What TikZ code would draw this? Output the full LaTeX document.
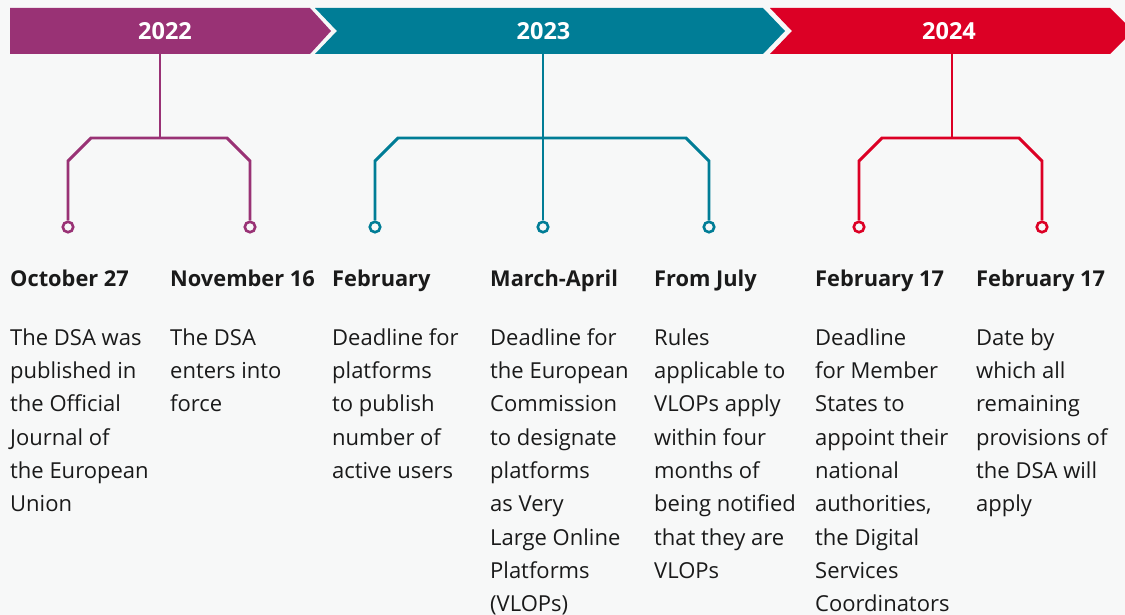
\documentclass[tikz,border=0pt]{standalone}
\usepackage{fontspec}
\setmainfont{Open Sans}
\definecolor{bgc}{HTML}{F7F8F8}
\definecolor{cpurple}{HTML}{993275}
\definecolor{cteal}{HTML}{007D96}
\definecolor{cred}{HTML}{DC0025}
\definecolor{ink}{HTML}{1A1A1A}
\begin{document}
\begin{tikzpicture}[x=1pt,y=-1pt,
  year/.style={text=white,font=\fontsize{23.5}{26}\selectfont\bfseries,anchor=base,inner sep=0pt},
  head/.style={text=ink,font=\fontsize{21.8}{26}\selectfont\bfseries,anchor=base west,inner sep=0pt},
  body/.style={text=ink,font=\fontsize{22}{33.3}\selectfont,anchor=north west,inner sep=0pt,align=left},
  branch/.style={line width=2.9pt},
  dot/.style={circle,line width=2.6pt,fill=bgc,minimum size=10.5pt,inner sep=0pt}]
\useasboundingbox[fill=bgc] (0,0) rectangle (1125,615);
\clip (0,0) rectangle (1125,615);

% year banner chevrons
\fill[cpurple] (10,8) -- (310,8) -- (331,31) -- (310,54) -- (10,54) -- cycle;
\fill[cteal] (315,8) -- (763,8) -- (785,31) -- (763,54) -- (315,54) -- (337,31) -- cycle;
\fill[cred] (770,8) -- (1110,8) -- (1133,31) -- (1110,54) -- (770,54) -- (792,31) -- cycle;

\node[year] (y22) at (165,40) {2022};
\node[year] (y23) at (543.5,40) {2023};
\node[year] (y24) at (949,40) {2024};

% stem roots on the banner edge
\coordinate (r22) at (160,54);
\coordinate (r23) at (543,54);
\coordinate (r24) at (952,54);
\coordinate (j22) at (160,138);
\coordinate (j24) at (952,138);

% end points of the branches
\node[dot,draw=cpurple] (c1) at (68,227) {};
\node[dot,draw=cpurple] (c2) at (250,227) {};
\node[dot,draw=cteal] (c3) at (375,227) {};
\node[dot,draw=cteal] (c4) at (543,227) {};
\node[dot,draw=cteal] (c5) at (709,227) {};
\node[dot,draw=cred] (c6) at (859,227) {};
\node[dot,draw=cred] (c7) at (1042,227) {};

% 2022 branches
\draw[branch,cpurple] (r22) -- (j22);
\draw[branch,cpurple] (c1.north) -- (68,161) -- (91,138) -- (227,138) -- (250,161) -- (c2.north);
% 2023 branches
\draw[branch,cteal] (r23) -- (c4.north);
\draw[branch,cteal] (c3.north) -- (375,161) -- (398,138) -- (686,138) -- (709,161) -- (c5.north);
% 2024 branches
\draw[branch,cred] (r24) -- (j24);
\draw[branch,cred] (c6.north) -- (859,161) -- (882,138) -- (1019,138) -- (1042,161) -- (c7.north);

% dates
\node[head] (h1) at (10,286) {October 27};
\node[head] (h2) at (170,286) {November 16};
\node[head] (h3) at (332,286) {February};
\node[head] (h4) at (490,286) {March-April};
\node[head] (h5) at (654,286) {From July};
\node[head] (h6) at (815,286) {February 17};
\node[head] (h7) at (976,286) {February 17};

% descriptions
\node[body] (t1) at (10,321.7) {\strut The DSA was\\published in\\the Official\\Journal of\\the European\\Union};
\node[body] (t2) at (170,321.7) {\strut The DSA\\enters into\\force};
\node[body] (t3) at (332,321.7) {\strut Deadline for\\platforms\\to publish\\number of\\active users};
\node[body] (t4) at (490,321.7) {\strut Deadline for\\the European\\Commission\\to designate\\platforms\\as Very\\Large Online\\Platforms\\(VLOPs)};
\node[body] (t5) at (654,321.7) {\strut Rules\\applicable to\\VLOPs apply\\within four\\months of\\being notified\\that they are\\VLOPs};
\node[body] (t6) at (815,321.7) {\strut Deadline\\for Member\\States to\\appoint their\\national\\authorities,\\the Digital\\Services\\Coordinators};
\node[body] (t7) at (976,321.7) {\strut Date by\\which all\\remaining\\provisions of\\the DSA will\\apply};
\end{tikzpicture}
\end{document}
